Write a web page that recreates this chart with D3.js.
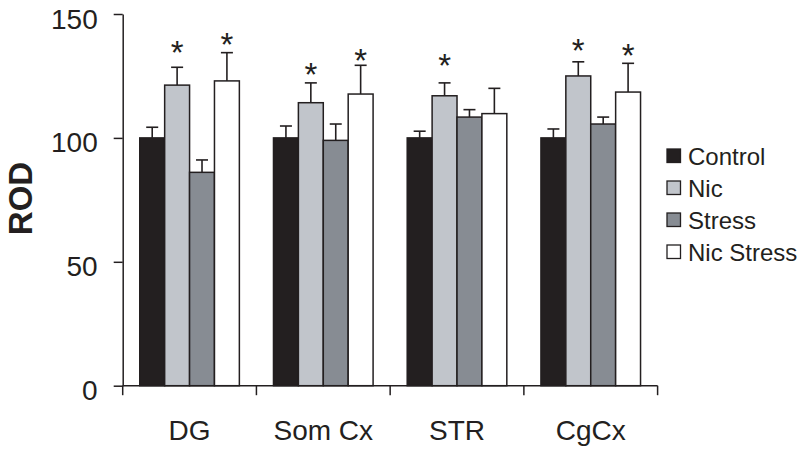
<!DOCTYPE html>
<html><head><meta charset="utf-8">
<script src="https://cdn.jsdelivr.net/npm/d3@7"></script>
<style>html,body{margin:0;padding:0;background:#fff;}svg{display:block;font-family:"Liberation Sans",Arial,Helvetica,sans-serif;}</style>
</head><body>
<svg id="chart" width="800" height="451"></svg>
<script>
const categories = ["DG", "Som Cx", "STR", "CgCx"];
const seriesNames = ["Control", "Nic", "Stress", "Nic Stress"];
const controlVals   = [100, 100, 100, 100];
const nicVals       = [121.3, 114.2, 117.0, 125.0];
const stressVals    = [86.1, 99.0, 108.4, 105.6];
const nicStressVals = [123.0, 117.7, 109.8, 118.5];
const controlErr   = [4.3, 4.8, 2.7, 3.6];
const nicErr       = [7.2, 8.0, 5.2, 5.7];
const stressErr    = [5.0, 6.6, 3.0, 2.8];
const nicStressErr = [11.4, 11.6, 10.2, 11.6];
// asterisk heights (ROD units), null = no asterisk
const nicStars       = [137.5, 128.7, 132.1, 138.2];
const nicStressStars = [140.8, 134.1, null, 136.2];
const yTicks = [0, 50, 100, 150];
const colors = ["#231f20", "#c1c5cb", "#878c93", "#ffffff"];

const means = [controlVals, nicVals, stressVals, nicStressVals];
const errs = [controlErr, nicErr, stressErr, nicStressErr];
const stars = [null, nicStars, null, nicStressStars];

const svg = d3.select("#chart");
const ink = "#231f20";

const y = d3.scaleLinear().domain([0, 150]).range([385.7, 14]);
const x0 = d3.scaleBand().domain(categories).range([122.7, 657.6]).padding(0);
const x1 = d3.scaleBand().domain(seriesNames).range([0, x0.bandwidth()]).paddingInner(0).paddingOuter(0.685);

const data = [];
categories.forEach((c, ci) => {
  seriesNames.forEach((s, si) => {
    data.push({cat: c, ser: s, si, v: means[si][ci], e: errs[si][ci], star: stars[si] ? stars[si][ci] : null});
  });
});

// error bars
const eg = svg.append("g").attr("stroke", ink).attr("stroke-width", 1.6);
data.forEach(d => {
  const cx = x0(d.cat) + x1(d.ser) + x1.bandwidth() / 2;
  eg.append("line").attr("x1", cx).attr("x2", cx).attr("y1", y(d.v)).attr("y2", y(d.v + d.e));
  eg.append("line").attr("x1", cx - 6).attr("x2", cx + 6).attr("y1", y(d.v + d.e)).attr("y2", y(d.v + d.e));
});

// bars
svg.append("g").selectAll("rect").data(data).join("rect")
  .attr("x", d => x0(d.cat) + x1(d.ser))
  .attr("y", d => y(d.v))
  .attr("width", x1.bandwidth())
  .attr("height", d => y(0) - y(d.v))
  .attr("fill", d => colors[d.si])
  .attr("stroke", ink)
  .attr("stroke-width", 1.5);

// asterisks
svg.append("g").selectAll("text").data(data.filter(d => d.star != null)).join("text")
  .attr("x", d => x0(d.cat) + x1(d.ser) + x1.bandwidth() / 2)
  .attr("y", d => y(d.star) + 19)
  .attr("text-anchor", "middle")
  .attr("font-size", 33)
  .attr("fill", ink)
  .text("*");

// y axis
const yAxis = svg.append("g").attr("transform", "translate(122.7,0)")
  .call(d3.axisLeft(y).tickValues(yTicks).tickSize(9).tickSizeOuter(0).tickPadding(16));
yAxis.select(".domain").attr("stroke", ink).attr("stroke-width", 1.5);
yAxis.selectAll(".tick line").attr("stroke", ink).attr("stroke-width", 1.5);
yAxis.selectAll(".tick text").attr("font-size", 28).attr("fill", ink)
  .attr("font-family", "Liberation Sans, Arial, sans-serif").attr("dy", "0.5em");

// x axis line + boundary ticks
const xg = svg.append("g").attr("stroke", ink).attr("stroke-width", 1.5);
const r = x0.range();
xg.append("line").attr("x1", r[0]).attr("x2", r[1]).attr("y1", y(0)).attr("y2", y(0));
const bounds = categories.map(c => x0(c)).concat([r[1]]);
bounds.forEach(b => xg.append("line").attr("x1", b).attr("x2", b).attr("y1", y(0)).attr("y2", y(0) + 9.5));

// category labels
svg.append("g").selectAll("text").data(categories).join("text")
  .attr("x", c => x0(c) + x0.bandwidth() / 2)
  .attr("y", 440)
  .attr("text-anchor", "middle")
  .attr("font-size", 28)
  .attr("fill", ink)
  .text(c => c);

// y label
svg.append("text")
  .attr("transform", "translate(32,198.5) rotate(-90)")
  .attr("text-anchor", "middle")
  .attr("font-size", 33)
  .attr("font-weight", "bold")
  .attr("fill", ink)
  .text("ROD");

// legend
const lg = svg.append("g");
seriesNames.forEach((s, i) => {
  const cy = 156 + i * 32;
  lg.append("rect").attr("x", 667).attr("y", cy - 7).attr("width", 13.5).attr("height", 13.5)
    .attr("fill", colors[i]).attr("stroke", ink).attr("stroke-width", 1.3);
  lg.append("text").attr("x", 688).attr("y", cy + 9).attr("font-size", 24).attr("fill", ink).text(s);
});
</script>
</body></html>
